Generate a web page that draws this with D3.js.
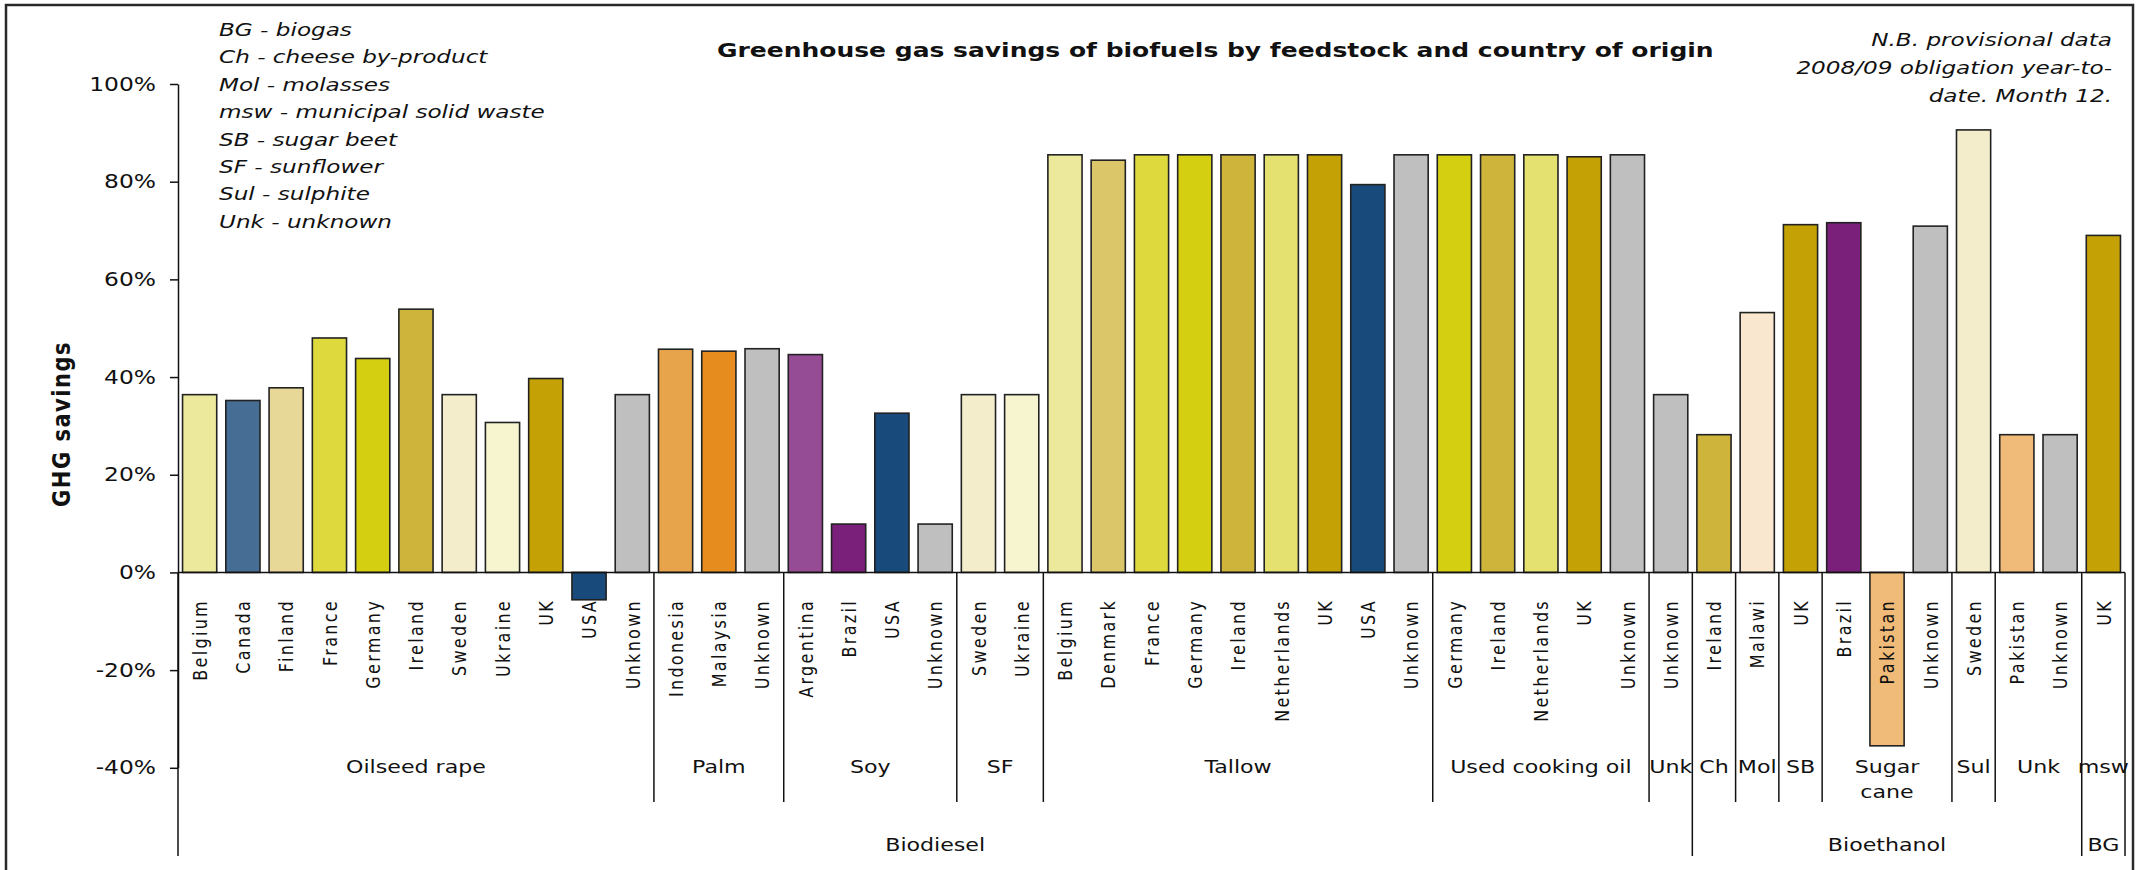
<!DOCTYPE html>
<html>
<head>
<meta charset="utf-8">
<script src="https://cdn.jsdelivr.net/npm/d3@7"></script>
<style>
  html, body { margin: 0; padding: 0; background: #fff; }
  svg { display: block; font-family: "DejaVu Sans", Verdana, sans-serif; }
</style>
</head>
<body>
<svg id="chart" width="2143" height="870"></svg>
<script>
// ---- Data ---------------------------------------------------------------
const chartTitle = "Greenhouse gas savings of biofuels by feedstock and country of origin";
const yTitle = "GHG savings";

// Fuel type (outer level of the category axis)
const fuelTypes = ["Biodiesel", "Bioethanol", "BG"];

// Feedstocks (middle level) and the fuel type each belongs to
const feedstocks = ["Oilseed rape", "Palm", "Soy", "SF", "Tallow", "Used cooking oil", "Unk",
                    "Ch", "Mol", "SB", "Sugar cane", "Sul", "Unk", "msw"];
const feedstockFuel = ["Biodiesel", "Biodiesel", "Biodiesel", "Biodiesel", "Biodiesel", "Biodiesel", "Biodiesel",
                       "Bioethanol", "Bioethanol", "Bioethanol", "Bioethanol", "Bioethanol", "Bioethanol", "BG"];

// Country of origin (inner level) per feedstock
const origins = [
  ["Belgium", "Canada", "Finland", "France", "Germany", "Ireland", "Sweden", "Ukraine", "UK", "USA", "Unknown"],
  ["Indonesia", "Malaysia", "Unknown"],
  ["Argentina", "Brazil", "USA", "Unknown"],
  ["Sweden", "Ukraine"],
  ["Belgium", "Denmark", "France", "Germany", "Ireland", "Netherlands", "UK", "USA", "Unknown"],
  ["Germany", "Ireland", "Netherlands", "UK", "Unknown"],
  ["Unknown"],
  ["Ireland"],
  ["Malawi"],
  ["UK"],
  ["Brazil", "Pakistan", "Unknown"],
  ["Sweden"],
  ["Pakistan", "Unknown"],
  ["UK"]
];

// GHG savings in percent, same layout as origins
const savings = [
  [36.4, 35.2, 37.8, 48.0, 43.8, 53.9, 36.4, 30.7, 39.7, -5.6, 36.4],
  [45.7, 45.3, 45.8],
  [44.6, 9.9, 32.6, 9.9],
  [36.4, 36.4],
  [85.5, 84.4, 85.5, 85.5, 85.5, 85.5, 85.5, 79.4, 85.5],
  [85.5, 85.5, 85.5, 85.1, 85.5],
  [36.4],
  [28.2],
  [53.2],
  [71.2],
  [71.6, -35.5, 70.9],
  [90.6],
  [28.2, 28.2],
  [69.0]
];

const yTicks = [100, 80, 60, 40, 20, 0, -20, -40];

const abbreviations = [
  "BG - biogas",
  "Ch - cheese by-product",
  "Mol - molasses",
  "msw - municipal solid waste",
  "SB - sugar beet",
  "SF - sunflower",
  "Sul - sulphite",
  "Unk - unknown"
];

const noteLines = ["N.B. provisional data", "2008/09 obligation year-to-", "date. Month 12."];

// Fill colour per country of origin
const countryColors = {
  Belgium: "#ECE99C", Canada: "#466E95", Finland: "#E7D898", France: "#DEDA3E",
  Germany: "#D5CF12", Ireland: "#CEB43A", Sweden: "#F3EDCB", Ukraine: "#F7F4D0",
  UK: "#C4A206", USA: "#184A7B", Unknown: "#BFBFBF", Indonesia: "#E8A44A",
  Malaysia: "#E68C1E", Argentina: "#964C95", Brazil: "#7A1F7A", Denmark: "#DCC66A",
  Netherlands: "#E5E170", Malawi: "#FAE7CF", Pakistan: "#F0BB78"
};

// ---- Layout ---------------------------------------------------------------
const plotLeft = 178, plotRight = 2125;
const plotTop = 84, plotBottom = 767.8;
const groupLineEnd = 802, fuelLineEnd = 856;
const textStretch = 1.23;

// Flatten to one row per bar
const rows = [];
origins.forEach((list, fi) => {
  list.forEach((country, ci) => {
    rows.push({ idx: rows.length, feed: fi, country, value: savings[fi][ci] });
  });
});
const n = rows.length;

const x = d3.scaleBand()
  .domain(d3.range(n))
  .range([plotLeft, plotRight])
  .paddingInner(0.21)
  .paddingOuter(0.105);
const step = x.step();
const slotEdge = i => x(0) - step * 0.105 + i * step;

const y = d3.scaleLinear().domain([-40, 100]).range([plotBottom, plotTop]);

const svg = d3.select("#chart");

// Stretched horizontal text helper
function stretchedText(parent, px, py, str, sx) {
  return parent.append("text")
    .attr("transform", `translate(${px},${py}) scale(${sx},1)`)
    .text(str);
}

// Outer frame
svg.append("rect")
  .attr("x", 6).attr("y", 5)
  .attr("width", 2127).attr("height", 900)
  .attr("fill", "none").attr("stroke", "#2a2a2a").attr("stroke-width", 2.5);

// Title
stretchedText(svg, 717, 57, chartTitle, 1.25)
  .attr("font-size", 20).attr("font-weight", "bold").attr("fill", "#111");

// Abbreviation key
abbreviations.forEach((t, i) => {
  stretchedText(svg, 219, 36 + i * 27.4, t, 1.36)
    .attr("font-size", 17).attr("font-style", "italic").attr("fill", "#111");
});

// Provisional data note
noteLines.forEach((t, i) => {
  stretchedText(svg, 2112, 46 + i * 28, t, 1.36)
    .attr("font-size", 17).attr("font-style", "italic").attr("fill", "#111")
    .attr("text-anchor", "end");
});

// Y axis title
svg.append("text")
  .attr("transform", `translate(61,424) scale(1.2,1) rotate(-90)`)
  .attr("text-anchor", "middle")
  .attr("dy", "0.35em")
  .attr("font-size", 21).attr("font-weight", "bold")
  .attr("letter-spacing", "1.5px")
  .attr("fill", "#111")
  .text(yTitle);

// Y axis
const yAxis = svg.append("g")
  .attr("transform", `translate(${plotLeft},0)`)
  .call(d3.axisLeft(y).tickValues(yTicks).tickSize(8).tickSizeOuter(0)
    .tickFormat(d => d + "%"));
yAxis.select(".domain").attr("stroke", "#111").attr("stroke-width", 1.5);
yAxis.selectAll(".tick line").attr("stroke", "#111").attr("stroke-width", 1.5);
yAxis.selectAll(".tick text")
  .attr("x", null)
  .attr("transform", `translate(-22,0) scale(${textStretch},1)`)
  .attr("font-size", 19)
  .attr("font-family", "DejaVu Sans, Verdana, sans-serif")
  .attr("fill", "#111");

// Bars
svg.append("g").selectAll("rect")
  .data(rows)
  .join("rect")
  .attr("x", d => x(d.idx))
  .attr("width", x.bandwidth())
  .attr("y", d => y(Math.max(0, d.value)))
  .attr("height", d => Math.abs(y(d.value) - y(0)))
  .attr("fill", d => countryColors[d.country])
  .attr("stroke", "#222")
  .attr("stroke-width", 1.6);

// Zero line
svg.append("line")
  .attr("x1", plotLeft).attr("x2", plotRight)
  .attr("y1", y(0)).attr("y2", y(0))
  .attr("stroke", "#111").attr("stroke-width", 1.6);

// Country labels (rotated)
svg.append("g").selectAll("text")
  .data(rows)
  .join("text")
  .attr("transform", d => `translate(${x(d.idx) + x.bandwidth() / 2},599) scale(1.25,1) rotate(-90)`)
  .attr("text-anchor", "end")
  .attr("dy", "0.36em")
  .attr("font-size", 16)
  .attr("letter-spacing", "2.3px")
  .attr("fill", "#111")
  .text(d => d.country);

// Feedstock spans
const feedSpans = [];
let start = 0;
feedstocks.forEach((name, fi) => {
  feedSpans.push({ name, fuel: feedstockFuel[fi], start, end: start + origins[fi].length });
  start += origins[fi].length;
});

// Fuel spans
const fuelSpans = fuelTypes.map(name => {
  const s = feedSpans.filter(f => f.fuel === name);
  return { name, start: s[0].start, end: s[s.length - 1].end };
});
const fuelEdges = new Set();
fuelSpans.forEach(f => { fuelEdges.add(f.start); fuelEdges.add(f.end); });

// Separators below the axis
const sepG = svg.append("g").attr("stroke", "#111").attr("stroke-width", 1.5);
const feedEdges = new Set();
feedSpans.forEach(f => { feedEdges.add(f.start); feedEdges.add(f.end); });
[...feedEdges].forEach(e => {
  sepG.append("line")
    .attr("x1", slotEdge(e)).attr("x2", slotEdge(e))
    .attr("y1", y(0)).attr("y2", fuelEdges.has(e) ? fuelLineEnd : groupLineEnd);
});

// Feedstock labels (wrap when they do not fit comfortably in their span)
const feedG = svg.append("g");
feedSpans.forEach(f => {
  const cx = (slotEdge(f.start) + slotEdge(f.end)) / 2;
  const avail = slotEdge(f.end) - slotEdge(f.start);
  const t = stretchedText(feedG, cx, 772.5, f.name, textStretch)
    .attr("font-size", 18).attr("text-anchor", "middle").attr("fill", "#111");
  const w = t.node().getComputedTextLength() * textStretch;
  if (w > avail - 16 && f.name.includes(" ")) {
    const words = f.name.split(" ");
    t.text(null);
    words.forEach((wd, k) => {
      t.append("tspan").attr("x", 0).attr("dy", k === 0 ? 0 : 26).text(wd);
    });
  }
});

// Fuel type labels
fuelSpans.forEach(f => {
  const cx = (slotEdge(f.start) + slotEdge(f.end)) / 2;
  stretchedText(svg, cx, 851, f.name, textStretch)
    .attr("font-size", 18).attr("text-anchor", "middle").attr("fill", "#111");
});
</script>
</body>
</html>
